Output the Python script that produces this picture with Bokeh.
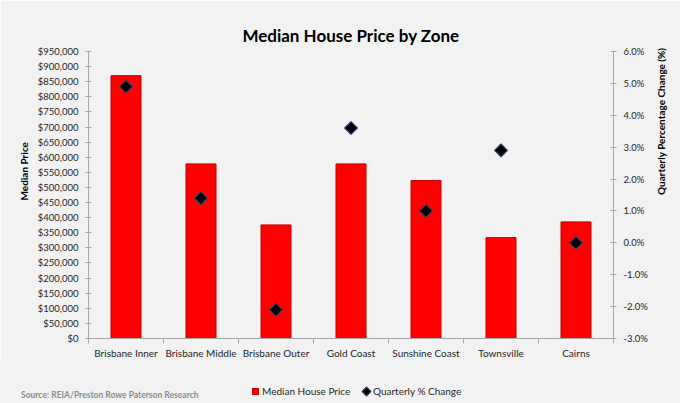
from bokeh.plotting import figure
from bokeh.layouts import column
from bokeh.models import (Range1d, LinearAxis, FixedTicker, NumeralTickFormatter,
                          PrintfTickFormatter, CustomJSTickFormatter,
                          ColumnDataSource, Title, Div)
from bokeh.embed import file_html
from bokeh.resources import INLINE
import numpy as np

categories = ["Brisbane Inner", "Brisbane Middle", "Brisbane Outer", "Gold Coast",
              "Sunshine Coast", "Townsville", "Cairns"]
median_price = [870000, 578000, 376000, 578000, 523000, 334000, 386000]
quarterly_change = [4.9, 1.4, -2.1, 3.6, 1.0, 2.9, 0.0]
price_ticks = list(range(0, 950001, 50000))
pct_ticks = [-3, -2, -1, 0, 1, 2, 3, 4, 5, 6]
series_names = ["Median House Price", "Quarterly % Change"]
source_note = "Source: REIA/Preston Rowe Paterson Research"

FONT = "Lato"
BG = "#f2f2f2"
AXIS_C = "#a6a6a6"
TXT = "#262626"
BAR_C = "#ff0000"
BAR_EDGE = "#c80000"
PT_C = "#000000"
PT_EDGE = "#1f3f6f"

xs = [i + 0.5 for i in range(len(categories))]
src = ColumnDataSource(dict(x=xs, price=median_price, pct=quarterly_change, cat=categories))

p = figure(output_backend="svg", toolbar_location=None,
           x_range=Range1d(0, len(categories)), y_range=Range1d(0, 950000),
           min_border_left=88, min_border_right=67, min_border_top=51, min_border_bottom=24)
p.frame_width = 525
p.frame_height = 287
p.background_fill_color = BG
p.border_fill_color = BG
p.outline_line_color = None
p.grid.visible = False
p.extra_y_ranges = {"pct": Range1d(-3, 6)}

bars = p.vbar(x="x", top="price", width=0.4, source=src, fill_color=BAR_C,
              line_color=BAR_EDGE, line_width=1)
pts = p.scatter(x="x", y="pct", source=src, y_range_name="pct", marker="square",
                angle=np.pi / 4, size=9, fill_color=PT_C, line_color=PT_EDGE,
                line_width=1.2)

p.title.text = "Median House Price by Zone"
p.title.align = "center"
p.title.text_font = FONT
p.title.text_font_style = "bold"
p.title.text_font_size = "17px"
p.title.text_color = "#000000"
p.title.standoff = 11

xa = p.xaxis[0]
xa.ticker = FixedTicker(ticks=xs, minor_ticks=list(range(len(categories) + 1)))
xa.formatter = CustomJSTickFormatter(args=dict(cats=categories),
                                     code="return cats[Math.floor(tick)];")
xa.major_tick_out = 0
xa.major_tick_in = 0
xa.minor_tick_out = 5
xa.minor_tick_in = 0
xa.minor_tick_line_color = AXIS_C
xa.axis_line_color = AXIS_C
xa.major_label_standoff = 3
xa.major_label_text_font = FONT
xa.major_label_text_font_size = "10px"
xa.major_label_text_color = TXT

ya = p.yaxis[0]
ya.ticker = FixedTicker(ticks=price_ticks)
ya.formatter = NumeralTickFormatter(format="$0,0")
ya.major_tick_out = 3
ya.major_tick_in = 3
ya.minor_tick_out = 0
ya.minor_tick_in = 0
ya.axis_line_color = AXIS_C
ya.major_tick_line_color = AXIS_C
ya.major_label_standoff = 7
ya.major_label_text_font = FONT
ya.major_label_text_font_size = "9.5px"
ya.major_label_text_color = TXT

ra = LinearAxis(y_range_name="pct", ticker=FixedTicker(ticks=pct_ticks),
                formatter=PrintfTickFormatter(format="%.1f%%"))
ra.major_tick_out = 3
ra.major_tick_in = 3
ra.minor_tick_out = 0
ra.minor_tick_in = 0
ra.axis_line_color = AXIS_C
ra.major_tick_line_color = AXIS_C
ra.major_label_standoff = 7
ra.major_label_text_font = FONT
ra.major_label_text_font_size = "9.5px"
ra.major_label_text_color = TXT
ra.axis_label = "Quarterly Percentage Change (%)"
ra.axis_label_text_font = FONT
ra.axis_label_text_font_style = "bold"
ra.axis_label_text_font_size = "10px"
ra.axis_label_text_color = "#000000"
ra.axis_label_standoff = 10
if "axis_label_orientation" in ra.properties():
    ra.axis_label_orientation = np.pi / 2
p.add_layout(ra, "right")

p.add_layout(Title(text="Median Price", align="left", offset=138, text_font=FONT,
                   text_font_style="bold", text_font_size="10px", text_color="#000000",
                   standoff=9), "left")

# bottom strip: legend keys + source note (HTML text)
strip_html = f"""
<div style="position:relative;width:680px;height:41px;background:{BG};font-family:{FONT},sans-serif;line-height:12px;">
  <span style="position:absolute;left:21px;top:27px;font-size:8.5px;font-weight:bold;color:#8c8c8c;white-space:nowrap;">{source_note}</span>
  <span style="position:absolute;left:252px;top:26px;width:7px;height:7px;box-sizing:border-box;background:{BAR_C};border:1px solid {BAR_EDGE};"></span>
  <span style="position:absolute;left:262px;top:23px;font-size:10px;color:{TXT};white-space:nowrap;">{series_names[0]}</span>
  <span style="position:absolute;left:363px;top:26px;width:7px;height:7px;box-sizing:border-box;background:{PT_C};border:1px solid {PT_EDGE};transform:rotate(45deg);"></span>
  <span style="position:absolute;left:373px;top:23px;font-size:10px;color:{TXT};white-space:nowrap;">{series_names[1]}</span>
</div>
"""
strip = Div(text=strip_html, width=680, height=41, margin=0,
            styles={"background-color": BG})

layout = column(p, strip, spacing=0)
open("out.html", "w").write(file_html(layout, INLINE))
